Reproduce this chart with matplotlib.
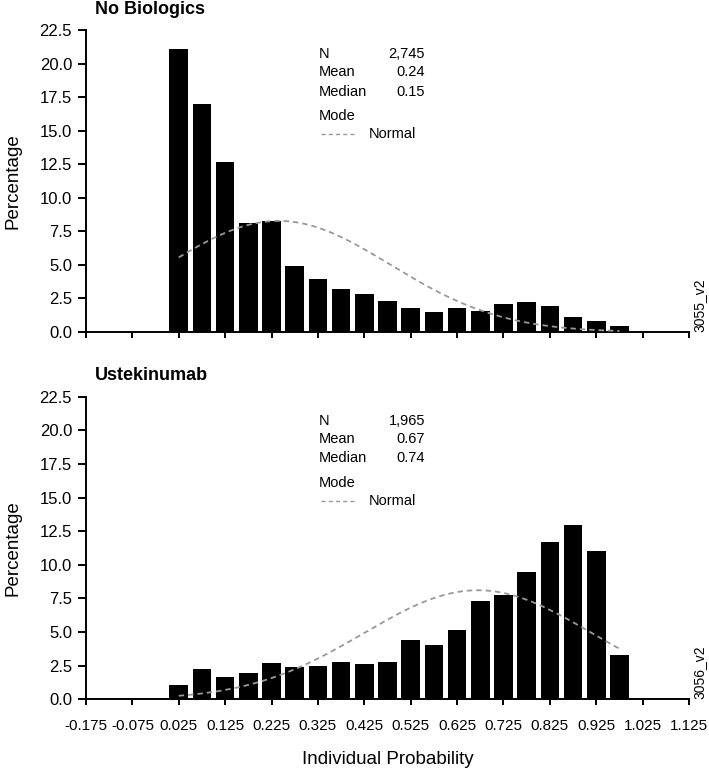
import numpy as np
import matplotlib
matplotlib.use("Agg")
import matplotlib.pyplot as plt
from matplotlib.lines import Line2D

plt.rcParams['font.family'] = ['Liberation Sans', 'DejaVu Sans']
plt.rcParams['axes.unicode_minus'] = False

# ---------------- data ----------------
bin_centers = [0.025, 0.075, 0.125, 0.175, 0.225, 0.275, 0.325, 0.375, 0.425, 0.475,
               0.525, 0.575, 0.625, 0.675, 0.725, 0.775, 0.825, 0.875, 0.925, 0.975]
no_bio_pct = [21.1, 16.95, 12.7, 8.1, 8.3, 4.95, 3.97, 3.18, 2.8, 2.29,
              1.81, 1.49, 1.76, 1.59, 2.06, 2.26, 1.96, 1.14, 0.84, 0.42]
ustek_pct = [1.09, 2.28, 1.68, 1.93, 2.68, 2.40, 2.48, 2.77, 2.62, 2.77,
             4.41, 4.07, 5.19, 7.31, 7.77, 9.44, 11.67, 12.94, 11.03, 3.26]
panel_titles = ["No Biologics", "Ustekinumab"]
panel_ids = ["3055_v2", "3056_v2"]
stats_n = ["2,745", "1,965"]
stats_mean = ["0.24", "0.67"]
stats_median = ["0.15", "0.74"]
normal_mu = [0.24, 0.67]
normal_sd = [0.241, 0.246]
bin_width = 0.05
xticks = [-0.175, -0.075, 0.025, 0.125, 0.225, 0.325, 0.425, 0.525, 0.625, 0.725,
          0.825, 0.925, 1.025, 1.125]
xtick_labels = ["-0.175", "-0.075", "0.025", "0.125", "0.225", "0.325", "0.425", "0.525",
                "0.625", "0.725", "0.825", "0.925", "1.025", "1.125"]
yticks = [0.0, 2.5, 5.0, 7.5, 10.0, 12.5, 15.0, 17.5, 20.0, 22.5]
ytick_labels = ["0.0", "2.5", "5.0", "7.5", "10.0", "12.5", "15.0", "17.5", "20.0", "22.5"]

# ---------------- figure ----------------
W, H = 709, 774
fig = plt.figure(figsize=(W / 100, H / 100), dpi=100)

def fx(px):
    return px / W

def fy(py):
    return 1 - py / H

# axes boxes (left, top, right, bottom) in pixels
boxes = [(86, 30, 689, 332), (86, 396.7, 689, 699.3)]
series = [no_bio_pct, ustek_pct]
title_y = [10, 376]

for i, (l, t, r, b) in enumerate(boxes):
    ax = fig.add_axes([fx(l), fy(b), fx(r) - fx(l), fy(t) - fy(b)])
    ax.bar(bin_centers, series[i], width=bin_width * 0.8, color='black', edgecolor='none', zorder=2)
    xs = np.linspace(bin_centers[0], bin_centers[-1], 200)
    ys = 100 * bin_width / (normal_sd[i] * np.sqrt(2 * np.pi)) * np.exp(-0.5 * ((xs - normal_mu[i]) / normal_sd[i]) ** 2)
    ax.plot(xs, ys, color='#999999', lw=1.3, ls=(0, (3, 2.2)), zorder=3)

    ax.set_xlim(-0.175, 1.125)
    ax.set_ylim(0, 22.5)
    ax.set_xticks(xticks)
    ax.set_yticks(yticks)
    ax.set_yticklabels(ytick_labels, fontsize=12)
    if i == 1:
        ax.set_xticklabels(xtick_labels, fontsize=11)
        ax.set_xlabel("Individual Probability", fontsize=13.5, labelpad=13)
    else:
        ax.set_xticklabels([])
    for s in ['top', 'right']:
        ax.spines[s].set_visible(False)
    for s in ['left', 'bottom']:
        ax.spines[s].set_linewidth(1.4)
    ax.tick_params(axis='y', length=6, width=1.4, pad=4)
    ax.tick_params(axis='x', length=4.5, width=1.4, pad=10)
    ax.set_ylabel("Percentage", fontsize=13.5, labelpad=13)

    # title
    fig.text(fx(95), fy(title_y[i]), panel_titles[i], fontsize=13, fontweight='bold',
             ha='left', va='center')
    # stats block
    y0 = t + 24
    fs = 10.5
    fig.text(fx(319), fy(y0), "N", fontsize=fs, ha='left', va='center')
    fig.text(fx(425), fy(y0), stats_n[i], fontsize=fs, ha='right', va='center')
    fig.text(fx(319), fy(y0 + 18.5), "Mean", fontsize=fs, ha='left', va='center')
    fig.text(fx(425), fy(y0 + 18.5), stats_mean[i], fontsize=fs, ha='right', va='center')
    fig.text(fx(319), fy(y0 + 37.5), "Median", fontsize=fs, ha='left', va='center')
    fig.text(fx(425), fy(y0 + 37.5), stats_median[i], fontsize=fs, ha='right', va='center')
    fig.text(fx(319), fy(y0 + 62), "Mode", fontsize=fs, ha='left', va='center')
    fig.add_artist(Line2D([fx(321), fx(357)], [fy(y0 + 80), fy(y0 + 80)], color='#999999',
                          lw=1.0, ls=(0, (3, 2.2)), transform=fig.transFigure))
    fig.text(fx(369), fy(y0 + 80), "Normal", fontsize=fs, ha='left', va='center')
    # id label
    fig.text(fx(699), fy(b), panel_ids[i], fontsize=10, rotation=90, ha='center', va='bottom')

fig.savefig("out.png", dpi=100)
